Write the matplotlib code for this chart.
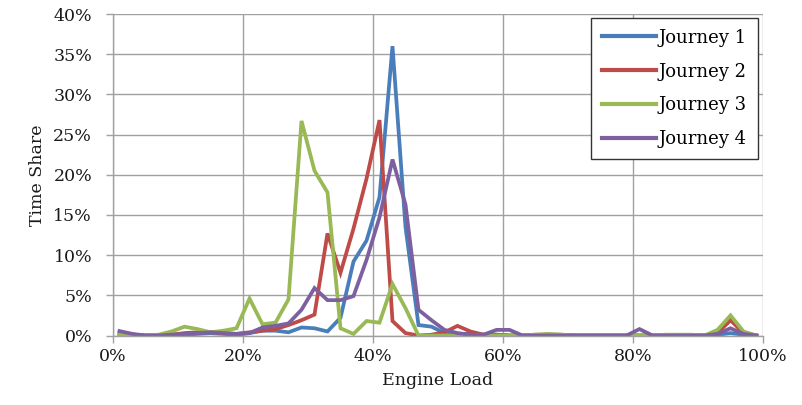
import numpy as np
import matplotlib
matplotlib.use("Agg")
import matplotlib.pyplot as plt
from matplotlib.ticker import MultipleLocator, FuncFormatter

# engine load bins (%), centre of each 2% bin
engine_load = list(range(1, 100, 2))

# time share (%) per bin for each journey
journey_1 = [0.3, 0.1, 0.0, 0.0, 0.0, 0.1, 0.2, 0.3, 0.2, 0.1,
             0.3, 0.6, 0.6, 0.4, 1.0, 0.9, 0.5, 2.2, 9.2, 11.8,
             17.2, 36.0, 13.5, 1.3, 1.1, 0.3, 0.2, 0.2, 0.1, 0.1,
             0.0, 0.0, 0.0, 0.0, 0.0, 0.0, 0.0, 0.0, 0.0, 0.0,
             0.0, 0.0, 0.0, 0.0, 0.0, 0.0, 0.1, 0.3, 0.1, 0.0]
journey_2 = [0.0, 0.0, 0.0, 0.0, 0.1, 0.3, 0.4, 0.4, 0.3, 0.2,
             0.4, 0.6, 0.8, 1.3, 1.9, 2.6, 12.7, 7.8, 13.3, 19.5,
             26.8, 1.8, 0.3, 0.0, 0.1, 0.4, 1.2, 0.5, 0.1, 0.1,
             0.0, 0.0, 0.1, 0.1, 0.1, 0.0, 0.0, 0.0, 0.0, 0.0,
             0.0, 0.0, 0.0, 0.0, 0.0, 0.0, 0.3, 1.9, 0.3, 0.0]
journey_3 = [0.1, 0.0, 0.0, 0.1, 0.5, 1.1, 0.8, 0.4, 0.6, 0.9,
             4.6, 1.4, 1.6, 4.5, 26.7, 20.5, 17.8, 0.9, 0.2, 1.8,
             1.6, 6.4, 3.4, 0.0, 0.0, 0.0, 0.0, 0.0, 0.0, 0.0,
             0.0, 0.0, 0.1, 0.2, 0.1, 0.0, 0.0, 0.0, 0.0, 0.0,
             0.0, 0.0, 0.1, 0.1, 0.1, 0.0, 0.7, 2.5, 0.5, 0.0]
journey_4 = [0.55, 0.2, 0.0, 0.0, 0.1, 0.2, 0.3, 0.4, 0.3, 0.2,
             0.3, 1.0, 1.2, 1.5, 3.2, 5.9, 4.4, 4.4, 4.9, 9.4,
             14.7, 21.9, 16.3, 3.2, 1.9, 0.7, 0.3, 0.1, 0.1, 0.7,
             0.7, 0.0, 0.0, 0.0, 0.0, 0.0, 0.0, 0.0, 0.0, 0.0,
             0.8, 0.0, 0.0, 0.0, 0.0, 0.0, 0.2, 0.9, 0.2, 0.0]

series_names = ["Journey 1", "Journey 2", "Journey 3", "Journey 4"]
series_colors = ["#4a7ebb", "#be4b48", "#98b954", "#7d60a0"]

plt.rcParams['font.family'] = ['DejaVu Serif']

fig = plt.figure(figsize=(8.03, 4.05), dpi=100)
ax = fig.add_axes([0.1407, 0.1716, 0.8095, 0.7938])

for name, vals, col in zip(series_names,
                           [journey_1, journey_2, journey_3, journey_4],
                           series_colors):
    ax.plot(np.array(engine_load) / 100.0, np.array(vals) / 100.0,
            color=col, lw=2.7, label=name, solid_joinstyle='miter')

ax.set_xlim(0, 1.0)
ax.set_ylim(0, 0.40)
ax.xaxis.set_major_locator(MultipleLocator(0.2))
ax.yaxis.set_major_locator(MultipleLocator(0.05))
pct = FuncFormatter(lambda v, _: f"{v * 100:.0f}%")
ax.xaxis.set_major_formatter(pct)
ax.yaxis.set_major_formatter(pct)

ax.grid(True, color="#a0a0a0", lw=1.0)
ax.set_axisbelow(True)
for side in ("top", "right"):
    ax.spines[side].set_visible(False)
for side in ("left", "bottom"):
    ax.spines[side].set_color("#a0a0a0")
    ax.spines[side].set_linewidth(1.0)

ax.tick_params(axis="both", colors="#a0a0a0", labelcolor="#1a1a1a",
               length=5, width=1.0, labelsize=12.5)
ax.tick_params(axis="y", pad=10)
ax.tick_params(axis="x", pad=4)

ax.set_xlabel("Engine Load", fontsize=12.5, color="#1a1a1a", labelpad=5)
ax.set_ylabel("Time Share", fontsize=12.5, color="#1a1a1a", labelpad=5)

leg = ax.legend(loc="upper right", bbox_to_anchor=(0.992, 0.988),
                borderaxespad=0, fancybox=False, edgecolor="#333333",
                fontsize=13, handlelength=3.0, handletextpad=0.15,
                labelspacing=0.88, borderpad=0.6, framealpha=1)
leg.get_frame().set_linewidth(1.0)
for line in leg.get_lines():
    line.set_linewidth(3.0)

fig.savefig("out.png", dpi=100)
